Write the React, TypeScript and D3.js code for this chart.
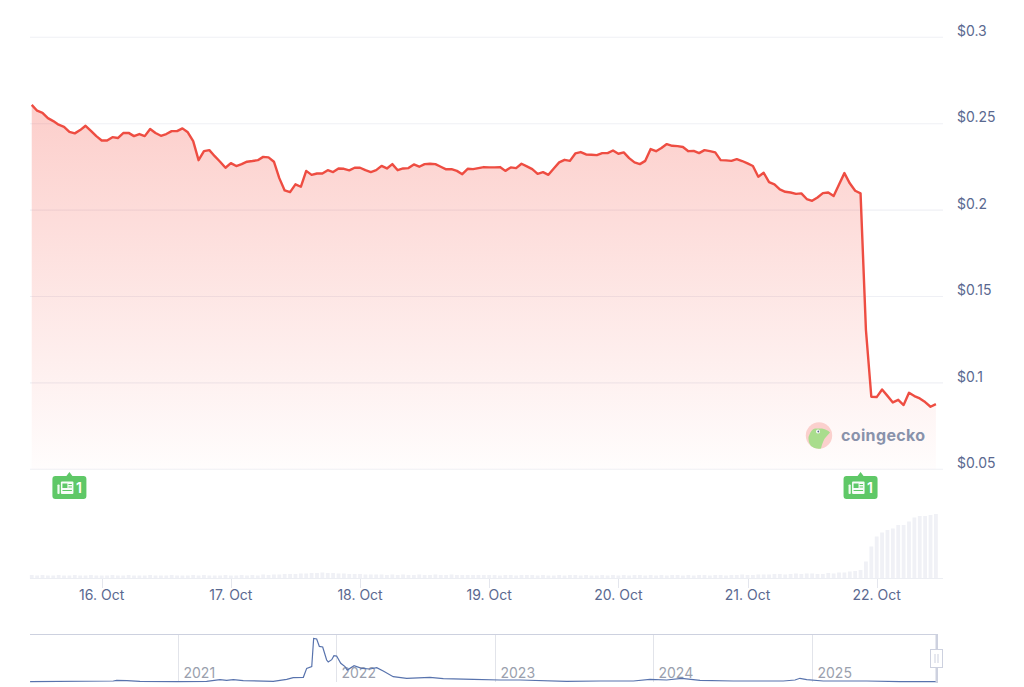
import React from "react";
import * as d3 from "d3";

const startTime = Date.UTC(2025, 9, 15, 11);
const hourMs = 3600000;

const prices = [
  0.2609,0.2575,0.2563,0.2532,0.2515,0.2494,0.2482,0.2453,0.2444,0.2463,0.2488,0.2459,0.2428,0.2403,0.2403,0.2422,0.2417,0.2446,0.2447,0.2428,0.2440,0.2428,0.2469,0.2446,0.2430,0.2440,0.2457,0.2457,0.2473,0.2450,
  0.2399,0.2289,0.2341,0.2347,0.2312,0.2280,0.2245,0.2272,0.2255,0.2266,0.2280,0.2284,0.2289,0.2308,0.2305,0.2280,0.2185,0.2114,0.2104,0.2149,0.2135,0.2227,0.2204,0.2212,0.2212,0.2231,0.2220,0.2241,0.2239,0.2230,
  0.2245,0.2245,0.2231,0.2220,0.2231,0.2256,0.2241,0.2266,0.2231,0.2241,0.2243,0.2264,0.2251,0.2266,0.2268,0.2266,0.2251,0.2236,0.2237,0.2227,0.2208,0.2239,0.2237,0.2243,0.2249,0.2247,0.2247,0.2249,0.2227,0.2247,
  0.2243,0.2268,0.2253,0.2237,0.2210,0.2220,0.2204,0.2241,0.2276,0.2291,0.2285,0.2328,0.2336,0.2322,0.2320,0.2318,0.2330,0.2330,0.2345,0.2326,0.2334,0.2301,0.2276,0.2266,0.2285,0.2353,0.2341,0.2359,0.2382,0.2372,
  0.2370,0.2365,0.2341,0.2343,0.2330,0.2347,0.2341,0.2334,0.2289,0.2288,0.2285,0.2295,0.2284,0.2270,0.2255,0.2193,0.2216,0.2162,0.2149,0.2120,0.2106,0.2102,0.2094,0.2097,0.2064,0.2054,0.2073,0.2098,0.2102,0.2081,
  0.2148,0.2214,0.2155,0.2112,0.2097,0.1306,0.0920,0.0918,0.0962,0.0925,0.0887,0.0902,0.0872,0.0943,0.0924,0.0910,0.0889,0.0862,0.0877,
];

const volumes = [
  3.5,3,3.5,3,3,3.5,3,3,3.5,3,3,3.5,3,3,3,3.5,3,3,3.5,3,3,3,3.5,3,3,3,3.5,3,3,3,
  3.5,3,3.5,3,3,3,3.5,3,3,3.5,3,3.5,3,4,3.5,4,4,4.5,4.5,4.5,5,5,5.5,5.5,6,5.5,5.5,5,5,4.5,
  4.5,4.5,4,4,4,4,3.5,4,3.5,4,3.5,3.5,4,3.5,3.5,4,3.5,3.5,4,3.5,3.5,3.5,3.5,3.5,3.5,3.5,3.5,3,3.5,3.5,
  3,3.5,3.5,3.5,3,3.5,3,3,3.5,3,3.5,3.5,3,3.5,3,3,3.5,3,3.5,3,3.5,3,3.5,3.5,3,3.5,3,3.5,3,3.5,
  3.5,3,3.5,3,3.5,3.5,3,3.5,3.5,3,3.5,3.5,4,3.5,3.5,4,4,4,4.5,4.5,4,4.5,5,4.5,5,5,4.5,4.5,5.5,5,
  6,6,7,7.5,8.5,17,32,42,46,48.5,50,53.5,53.5,57,61,62.5,62.5,63.5,64.5,
];

const yTicks = [0.05, 0.1, 0.15, 0.2, 0.25, 0.3];
const yTickLabels = ["$0.05", "$0.1", "$0.15", "$0.2", "$0.25", "$0.3"];
const dayTicks = [16, 17, 18, 19, 20, 21, 22];
const newsHours = [7, 154];
const newsCounts = ["1", "1"];

const navYears = [
  2020.07,2020.595,2020.616,2020.68,2020.763,2021.0,2021.184,2021.268,2021.31,2021.352,2021.415,2021.604,2021.689,2021.73,2021.794,2021.815,2021.847,2021.859,2021.878,2021.895,2021.916,2021.941,2021.951,2021.973,2021.987,2022.004,2022.03,2022.057,2022.071,2022.114,2022.162,2022.214,2022.257,2022.298,2022.361,2022.446,2022.593,2022.677,2022.866,2023.035,
  2023.161,2023.455,2023.666,2023.876,2023.981,2024.086,2024.181,2024.297,2024.507,2024.822,2024.896,2024.927,2024.97,2025.074,2025.348,2025.558,2025.79,
];
const navValues = [
  0.007,0.023,0.038,0.03,0.015,0.007,0.015,0.053,0.038,0.053,0.03,0.015,0.06,0.1,0.107,0.31,0.35,0.99,0.977,0.81,0.795,0.5,0.455,0.507,0.6,0.59,0.425,0.35,0.27,0.37,0.31,0.295,0.325,0.25,0.12,0.084,0.107,0.075,0.06,0.045,
  0.045,0.015,0.023,0.023,0.06,0.045,0.084,0.038,0.023,0.023,0.045,0.084,0.053,0.023,0.023,0.007,0.007,
];
const navTickYears = [2021, 2022, 2023, 2024, 2025];

const FONT = "Inter, 'Liberation Sans', sans-serif";
const LABEL = "#5a6990";

const timeOf = (i: number) => new Date(startTime + i * hourMs);

function Badge({ x, count }: { x: number; count: string }) {
  const top = 476;
  const fill = "#5fc867";
  const path = `M${x - 14},${top} L${x - 3},${top} L${x},${top - 4} L${x + 3},${top} L${x + 14},${top}
    Q${x + 17},${top} ${x + 17},${top + 3} L${x + 17},${top + 20} Q${x + 17},${top + 23} ${x + 14},${top + 23}
    L${x - 14},${top + 23} Q${x - 17},${top + 23} ${x - 17},${top + 20} L${x - 17},${top + 3} Q${x - 17},${top} ${x - 14},${top} Z`;
  return (
    <g>
      <path d={path} fill={fill} />
      <rect x={x - 8.5} y={top + 5.5} width={12.5} height={12.5} rx={1} fill="#fff" fillOpacity={0.95} />
      <rect x={x - 12} y={top + 8.5} width={2.2} height={9.5} rx={0.8} fill="#fff" fillOpacity={0.9} />
      <rect x={x - 7} y={top + 7.5} width={5} height={4.5} fill={fill} />
      <rect x={x - 1} y={top + 8} width={3.5} height={1} fill={fill} />
      <rect x={x - 1} y={top + 10.5} width={3.5} height={1} fill={fill} />
      <rect x={x - 7} y={top + 14} width={9.5} height={1} fill={fill} />
      <text x={x + 9.5} y={top + 11.5} dy="0.36em" textAnchor="middle" fontFamily={FONT} fontSize={14} fontWeight={600} fill="#fff">{count}</text>
    </g>
  );
}

export default function App() {
  const x = d3.scaleUtc().domain([new Date(Date.UTC(2025, 9, 16)), new Date(Date.UTC(2025, 9, 22))]).range([101.7, 876.7]);
  const y = d3.scaleLinear().domain([0.05, 0.3]).range([469.3, 37.3]);
  const volY = d3.scaleLinear().domain([0, 64.5]).range([578.5, 514]);
  const navX = d3.scaleLinear().domain([2021, 2025]).range([177.5, 811.5]);
  const navY = d3.scaleLinear().domain([0, 1]).range([682, 638]);

  const line = d3.line<number>().x((_, i) => x(timeOf(i))).y((d) => y(d)).curve(d3.curveLinear);
  const area = d3.area<number>().x((_, i) => x(timeOf(i))).y0(469.3).y1((d) => y(d)).curve(d3.curveLinear);
  const navLine = d3.line<number>().x((_, i) => navX(navYears[i])).y((d) => navY(d)).curve(d3.curveLinear);
  const dayFmt = d3.utcFormat("%-d. %b");

  return (
    <svg width={1024} height={687} viewBox="0 0 1024 687" style={{ position: "absolute", left: 0, top: 0, display: "block", background: "#fff" }}>
      <defs>
        <linearGradient id="areaFill" x1="0" y1="104" x2="0" y2="469" gradientUnits="userSpaceOnUse">
          <stop offset="0" stopColor="#f44336" stopOpacity={0.26} />
          <stop offset="1" stopColor="#f44336" stopOpacity={0.012} />
        </linearGradient>
      </defs>

      {yTicks.map((t) => (
        <line key={t} x1={30} x2={943} y1={y(t)} y2={y(t)} stroke="#eff0f5" strokeWidth={1.1} />
      ))}

      <path d={area(prices) ?? ""} fill="url(#areaFill)" />

      {volumes.map((v, i) => (
        <rect key={i} x={x(timeOf(i)) - 1.9} width={3.8} y={volY(v)} height={578.5 - volY(v)} fill="#f0f1f6" />
      ))}
      <line x1={30} x2={943} y1={578.5} y2={578.5} stroke="#eceef3" />

      <path d={line(prices) ?? ""} fill="none" stroke="#ee4d42" strokeWidth={2.4} strokeLinejoin="round" />

      {/* watermark */}
      <g>
        <circle cx={819} cy={435.5} r={13.2} fill="#fbd0cd" />
        <path d="M808.5,437 Q811,429 815,428.5 L822,428.5 Q828,430 830,432.5 L826,437 Q823,440 821,448.5 Q815,449.5 811,446 Q808,442 808.5,437 Z" fill="#a9dd8d" />
        <circle cx={818} cy={431.5} r={2} fill="#fff" />
        <circle cx={818.3} cy={431.5} r={0.9} fill="#5d6a8c" />
        <text x={841} y={435} dy="0.36em" fontFamily={FONT} fontSize={16} fontWeight={700} letterSpacing={0.35} fill="#8992ab">coingecko</text>
      </g>

      {newsHours.map((h, i) => (
        <Badge key={h} x={x(timeOf(h))} count={newsCounts[i]} />
      ))}

      {yTicks.map((t, i) => (
        <text key={t} x={957} y={y(t) - 6.3} dy="0.36em" fontFamily={FONT} fontSize={14} fill={LABEL}>{yTickLabels[i]}</text>
      ))}

      {dayTicks.map((d) => {
        const date = new Date(Date.UTC(2025, 9, d));
        const px = Math.round(x(date)) + 0.5;
        return (
          <g key={d}>
            <line x1={px} x2={px} y1={579} y2={588} stroke="#e4e6ed" />
            <text x={x(date)} y={595} dy="0.36em" textAnchor="middle" fontFamily={FONT} fontSize={14} fill={LABEL}>{dayFmt(date)}</text>
          </g>
        );
      })}

      {/* navigator */}
      <line x1={30} x2={937} y1={634.5} y2={634.5} stroke="#cdd1df" />
      {navTickYears.map((yr) => {
        const px = Math.round(navX(yr)) + 0.5;
        return (
          <g key={yr}>
            <line x1={px} x2={px} y1={635} y2={682} stroke="#e2e4ea" />
            <text x={px + 5} y={673} dy="0.36em" fontFamily={FONT} fontSize={14} fill="#9a9fad">{yr}</text>
          </g>
        );
      })}
      <path d={navLine(navValues) ?? ""} fill="none" stroke="#5873ad" strokeWidth={1.2} />
      <rect x={935.5} y={634} width={2.5} height={49} fill="#cdd1df" />
      <rect x={930.5} y={649.5} width={12} height={18} fill="#fff" stroke="#cdd1df" />
      <line x1={935} x2={935} y1={654} y2={663} stroke="#cdd1df" />
      <line x1={938} x2={938} y1={654} y2={663} stroke="#cdd1df" />
    </svg>
  );
}
